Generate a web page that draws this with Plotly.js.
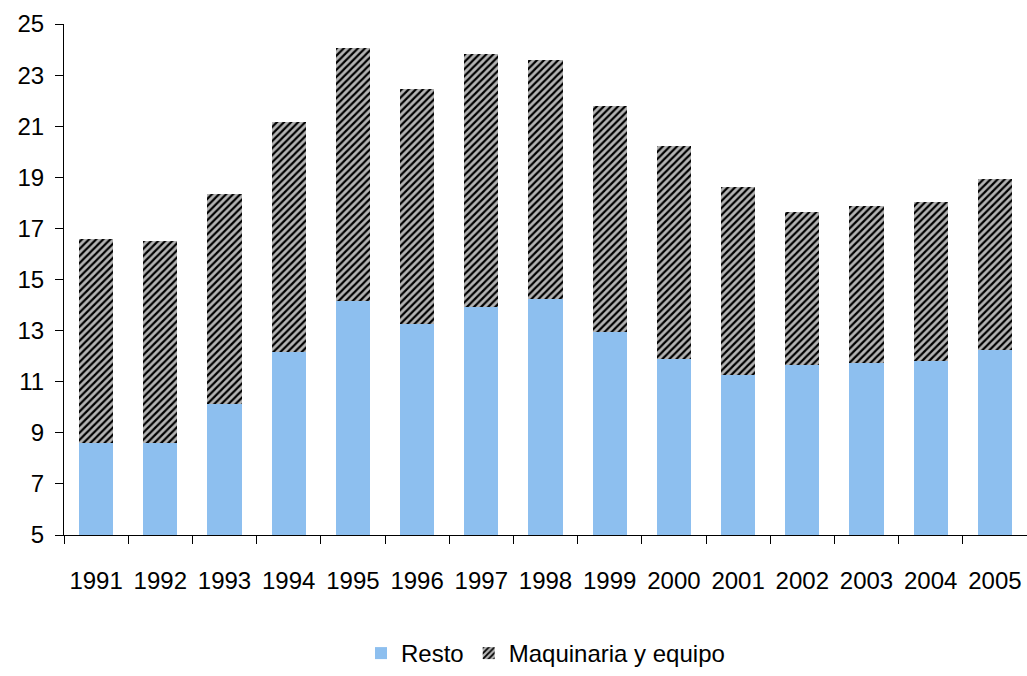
<!DOCTYPE html>
<html>
<head>
<meta charset="utf-8">
<script src="https://cdn.plot.ly/plotly-3.0.1.min.js"></script>
<style>html,body{margin:0;padding:0;background:#fff;}#chart{width:1027px;height:676px;}</style>
</head>
<body>
<div id="chart"></div>
<script>
const years = ['1991','1992','1993','1994','1995','1996','1997','1998','1999','2000','2001','2002','2003','2004','2005'];
const resto = [8.61, 8.60, 10.13, 12.16, 14.16, 13.26, 13.92, 14.24, 12.96, 11.90, 11.26, 11.65, 11.73, 11.81, 12.24];
const maquinaria = [7.98, 7.91, 8.22, 9.00, 9.90, 9.20, 9.91, 9.35, 8.83, 8.33, 7.36, 5.99, 6.15, 6.22, 6.69];
const yTicks = [5, 7, 9, 11, 13, 15, 17, 19, 21, 23, 25];

const font = "'Liberation Sans Narrow', 'Arial Narrow', 'Liberation Sans', Arial, sans-serif";

const traces = [
  {
    type: 'bar', name: 'Resto', x: years, y: resto,
    marker: {color: '#8dbfef', line: {width: 0}}
  },
  {
    type: 'bar', name: 'Maquinaria y equipo', x: years, y: maquinaria,
    marker: {
      color: '#b4b4b4', line: {width: 0},
      pattern: {shape: '/', fgcolor: '#000000', bgcolor: '#b4b4b4', size: 5, solidity: 0.45}
    }
  }
];

const layout = {
  width: 1027, height: 676,
  barmode: 'stack', bargap: 0.47,
  paper_bgcolor: '#fff', plot_bgcolor: '#fff',
  margin: {l: 64, r: 0, t: 24, b: 141},
  font: {family: font, color: '#000', size: 24},
  xaxis: {
    type: 'category', showline: true, linecolor: '#000', linewidth: 1,
    ticks: 'outside', tickson: 'boundaries', ticklen: 8, tickcolor: '#000',
    showgrid: false, zeroline: false, tickfont: {size: 24, family: font},
    ticklabelstandoff: 24
  },
  yaxis: {
    range: [5, 25], tickvals: yTicks, showline: true, linecolor: '#000', linewidth: 1,
    ticks: 'outside', ticklen: 8, tickcolor: '#000', showgrid: false, zeroline: false,
    tickfont: {size: 24, family: font}, ticklabelstandoff: 6
  },
  legend: {
    orientation: 'h', x: 0.5, xanchor: 'center', y: -0.232, yanchor: 'middle',
    font: {size: 24, family: font}, itemwidth: 30, traceorder: 'normal', borderwidth: 0
  },
  showlegend: true
};

Plotly.newPlot('chart', traces, layout, {displayModeBar: false, staticPlot: true});
</script>
</body>
</html>
